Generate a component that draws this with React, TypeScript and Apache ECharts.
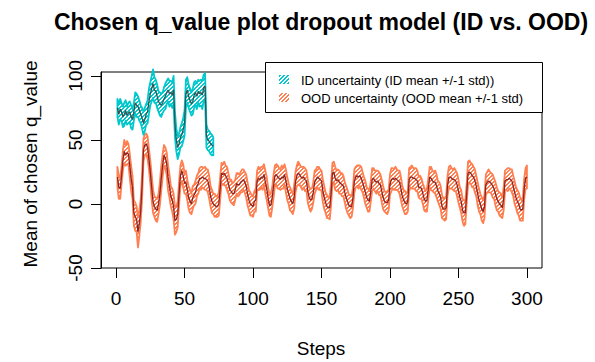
import React, { useEffect, useRef } from "react";
import * as echarts from "echarts";

const titleText = "Chosen q_value plot dropout model (ID vs. OOD)";
const xLabel = "Steps";
const yLabel = "Mean of chosen q_value";
const xTicks = [0, 50, 100, 150, 200, 250, 300];
const yTicks = [-50, 0, 50, 100];
const legendLabels = [
  "ID uncertainty (ID mean +/-1 std))",
  "OOD uncertainty (OOD mean +/-1 std)",
];

// ID: steps 1..71
const idMean = [
  75, 70, 74, 72, 68, 70, 73, 69, 71, 72,
  68, 66, 72, 79, 77, 76, 73, 70, 67, 63,
  66, 70, 72, 80, 86, 90, 94, 89, 88, 84,
  80, 78, 77, 79, 82, 84, 87, 89, 86, 87,
  85, 89, 62, 50, 44, 47, 52, 54, 58, 63,
  86, 89, 84, 81, 78, 80, 85, 87, 84, 88,
  86, 87, 85, 91, 92, 53, 50, 49, 47, 46,
  45,
];
const idStd = [
  7, 8, 8, 7, 8, 9, 8, 7, 8, 8,
  9, 8, 7, 8, 9, 8, 8, 7, 8, 9,
  9, 8, 9, 10, 9, 10, 11, 10, 9, 9,
  8, 9, 9, 8, 9, 10, 9, 9, 10, 9,
  10, 11, 10, 9, 9, 8, 8, 9, 9, 10,
  11, 10, 9, 9, 9, 10, 10, 9, 10, 9,
  10, 10, 11, 10, 10, 9, 8, 8, 8, 8,
  7,
];

// OOD: steps 1..300
const oodMean = [
  21, 13, 12, 22, 34, 41, 38, 40, 39, 30, 20, 13, -7, -10, -12, -22, -15, -5, 14, 42,
  46, 47, 44, 35, 25, 13, 2, -2, -4, -5, 0, 8, 20, 30, 38, 36, 31, 20, 14, 6,
  3, -2, -13, -12, -8, 8, 22, 26, 22, 16, 17, 11, 5, 2, 0, 5, 7, 9, 14, 16,
  20, 20, 21, 20, 20, 19, 18, 13, 6, 2, 0, -1, -2, -2, 0, 12, 24, 23, 24, 22,
  20, 16, 11, 10, 8, 8, 11, 16, 15, 15, 17, 18, 19, 17, 14, 8, 3, 0, -1, -2,
  2, 3, 18, 20, 19, 21, 20, 23, 17, 12, 5, -1, -1, 5, 14, 22, 23, 21, 20, 19,
  21, 20, 23, 18, 12, 8, 4, 2, 0, 5, 17, 22, 24, 23, 21, 20, 21, 19, 18, 10,
  5, 3, 4, 9, 17, 19, 21, 20, 19, 18, 10, 5, 1, -2, -3, -3, 8, 24, 25, 20,
  18, 19, 17, 16, 15, 14, 9, 5, 2, -1, -2, -2, 5, 18, 21, 22, 21, 22, 20, 17,
  13, 9, 5, 3, 2, 10, 19, 20, 18, 17, 18, 16, 15, 10, 5, 2, 1, 1, 3, 15,
  19, 20, 19, 20, 19, 18, 17, 12, 6, 3, 1, 0, 2, 19, 21, 21, 20, 20, 19, 18,
  13, 13, 12, 8, 4, 2, 3, 12, 21, 20, 18, 17, 17, 14, 10, 8, 5, -2, -4, -4,
  -3, 14, 21, 21, 20, 19, 19, 18, 15, 10, 5, 2, -5, -7, -7, 8, 24, 25, 24, 22,
  21, 18, 14, 8, 3, 0, -4, -6, -2, 15, 17, 18, 17, 16, 14, 12, 8, 4, 2, 0,
  -1, -3, 4, 18, 19, 19, 20, 19, 18, 14, 9, 5, 2, 0, -4, -5, -4, 12, 20, 21,
];
const oodStd = [
  8, 9, 8, 7, 8, 9, 8, 9, 8, 9, 10, 9, 10, 11, 10, 12, 10, 9, 10, 9,
  8, 8, 9, 8, 9, 10, 9, 8, 9, 9, 8, 9, 10, 9, 8, 8, 9, 10, 9, 8,
  9, 10, 11, 10, 10, 9, 8, 8, 9, 8, 9, 8, 9, 9, 8, 9, 8, 9, 8, 8,
  8, 9, 8, 8, 9, 8, 9, 9, 8, 9, 8, 9, 8, 8, 9, 9, 8, 8, 9, 8,
  9, 8, 8, 9, 8, 9, 8, 8, 9, 8, 8, 9, 8, 8, 9, 9, 8, 9, 8, 8,
  8, 9, 8, 9, 8, 8, 9, 8, 9, 9, 8, 8, 9, 8, 9, 8, 8, 9, 8, 8,
  9, 8, 8, 9, 9, 8, 9, 8, 8, 9, 8, 8, 9, 8, 8, 9, 8, 9, 8, 9,
  8, 9, 8, 8, 9, 8, 8, 9, 8, 8, 9, 9, 8, 9, 8, 9, 9, 8, 8, 9,
  8, 8, 9, 8, 9, 8, 8, 9, 9, 8, 9, 8, 8, 9, 8, 8, 9, 8, 9, 8,
  8, 9, 8, 9, 8, 8, 9, 8, 8, 9, 8, 9, 8, 9, 9, 8, 8, 9, 8, 8,
  9, 8, 8, 9, 8, 8, 9, 9, 8, 8, 9, 8, 8, 9, 8, 9, 8, 8, 9, 8,
  8, 9, 8, 8, 9, 8, 9, 8, 8, 9, 8, 8, 9, 9, 8, 9, 9, 9, 8, 9,
  9, 8, 8, 9, 8, 8, 9, 8, 9, 9, 8, 9, 9, 10, 9, 8, 9, 9, 8, 9,
  8, 9, 8, 9, 9, 8, 9, 9, 9, 8, 8, 9, 8, 8, 9, 8, 9, 9, 8, 9,
  9, 8, 9, 8, 8, 9, 8, 8, 9, 8, 9, 8, 9, 9, 9, 8, 9, 8, 8, 9,
];

const FONT = "'Liberation Sans', Arial, Helvetica, sans-serif";
const ID_FILL = "#00C8CC";
const ID_LINE = "#2F5656";
const OOD_FILL = "#FF7F50";
const OOD_LINE = "#8B2525";

function makeHatch(base: string): any {
  const c = document.createElement("canvas");
  c.width = 4;
  c.height = 4;
  const ctx = c.getContext("2d")!;
  ctx.fillStyle = base;
  ctx.fillRect(0, 0, 4, 4);
  for (let x = 0; x < 4; x++) {
    for (let y = 0; y < 4; y++) {
      const k = (x + y) % 4;
      if (k === 0 || k === 1) {
        ctx.fillStyle = "rgba(255,255,255,1)";
        ctx.fillRect(x, y, 1, 1);
      }
    }
  }
  return { image: c, repeat: "repeat", imageWidth: 4, imageHeight: 4 };
}

function bandSeries(name: string, mean: number[], std: number[], fill: any, stroke: string, z: number) {
  const rows = mean.map((m, i) => [i + 1, m - std[i], m + std[i]]);
  return {
    type: "custom",
    name,
    data: rows,
    encode: { x: 0, y: [1, 2] },
    silent: true,
    z,
    renderItem: (params: any, api: any) => {
      if (params.dataIndex !== 0) return null;
      const upper = rows.map((r) => api.coord([r[0], r[2]]));
      const lower = rows.map((r) => api.coord([r[0], r[1]])).reverse();
      return {
        type: "polygon",
        shape: { points: upper.concat(lower) },
        style: { fill, stroke, lineWidth: 1.8, lineJoin: "round" },
      };
    },
  };
}

export default function App() {
  const ref = useRef<HTMLDivElement>(null);
  useEffect(() => {
    if (!ref.current) return;
    const chart = echarts.init(ref.current, null, { renderer: "svg" });
    const idHatch = makeHatch(ID_FILL);
    const oodHatch = makeHatch(OOD_FILL);
    chart.setOption({
      animation: false,
      backgroundColor: "#ffffff",
      textStyle: { fontFamily: FONT },
      grid: {
        left: 101,
        top: 72,
        right: 53,
        bottom: 94,
        show: true,
        borderColor: "#000",
        borderWidth: 1,
        backgroundColor: "transparent",
      },
      xAxis: {
        type: "value",
        min: -11,
        max: 311,
        axisLine: { show: false, onZero: false },
        splitLine: { show: false },
        axisTick: { show: true, length: 10, lineStyle: { color: "#000" }, customValues: xTicks },
        axisLabel: { customValues: xTicks, fontSize: 19, color: "#000", margin: 21, fontFamily: FONT },
      },
      yAxis: {
        type: "value",
        min: -50,
        max: 103,
        axisLine: { show: true, onZero: false, lineStyle: { color: "#000" } },
        splitLine: { show: false },
        axisTick: { show: true, length: 10, lineStyle: { color: "#000" }, customValues: yTicks },
        axisLabel: { customValues: yTicks, fontSize: 19, color: "#000", margin: 16, rotate: 90, fontFamily: FONT },
      },
      series: [
        bandSeries("OOD band", oodMean, oodStd, oodHatch, OOD_FILL, 1),
        bandSeries("ID band", idMean, idStd, idHatch, ID_FILL, 2),
        {
          type: "line",
          name: "OOD mean",
          data: oodMean.map((m, i) => [i + 1, m]),
          showSymbol: false,
          symbol: "none",
          lineStyle: { color: OOD_LINE, width: 1.3 },
          z: 3,
          silent: true,
        },
        {
          type: "line",
          name: "ID mean",
          data: idMean.map((m, i) => [i + 1, m]),
          showSymbol: false,
          symbol: "none",
          lineStyle: { color: ID_LINE, width: 1.3 },
          z: 4,
          silent: true,
        },
      ],
      graphic: [
        {
          type: "text",
          x: 321,
          y: 22,
          style: { text: titleText, font: `bold 23px ${FONT}`, fill: "#000", textAlign: "center", textVerticalAlign: "middle" },
        },
        {
          type: "text",
          x: 321,
          y: 348,
          style: { text: xLabel, font: `19px ${FONT}`, fill: "#000", textAlign: "center", textVerticalAlign: "middle" },
        },
        {
          type: "text",
          x: 30,
          y: 164,
          rotation: Math.PI / 2,
          style: { text: yLabel, font: `19px ${FONT}`, fill: "#000", textAlign: "center", textVerticalAlign: "middle" },
        },
        {
          type: "rect",
          shape: { x: 265.5, y: 62.5, width: 277, height: 50 },
          style: { fill: "#fff", stroke: "#000", lineWidth: 1 },
          z: 10,
        },
        {
          type: "rect",
          shape: { x: 279, y: 75, width: 10, height: 9 },
          style: { fill: idHatch },
          z: 11,
        },
        {
          type: "rect",
          shape: { x: 279, y: 93, width: 10, height: 9 },
          style: { fill: oodHatch },
          z: 11,
        },
        {
          type: "text",
          x: 301,
          y: 80,
          style: { text: legendLabels[0], font: `13px ${FONT}`, fill: "#000", textAlign: "left", textVerticalAlign: "middle" },
          z: 11,
        },
        {
          type: "text",
          x: 301,
          y: 98,
          style: { text: legendLabels[1], font: `13px ${FONT}`, fill: "#000", textAlign: "left", textVerticalAlign: "middle" },
          z: 11,
        },
      ],
    });
    return () => chart.dispose();
  }, []);
  return (
    <div
      ref={ref}
      style={{ position: "fixed", left: 0, top: 0, width: 595, height: 362, background: "#fff" }}
    />
  );
}
